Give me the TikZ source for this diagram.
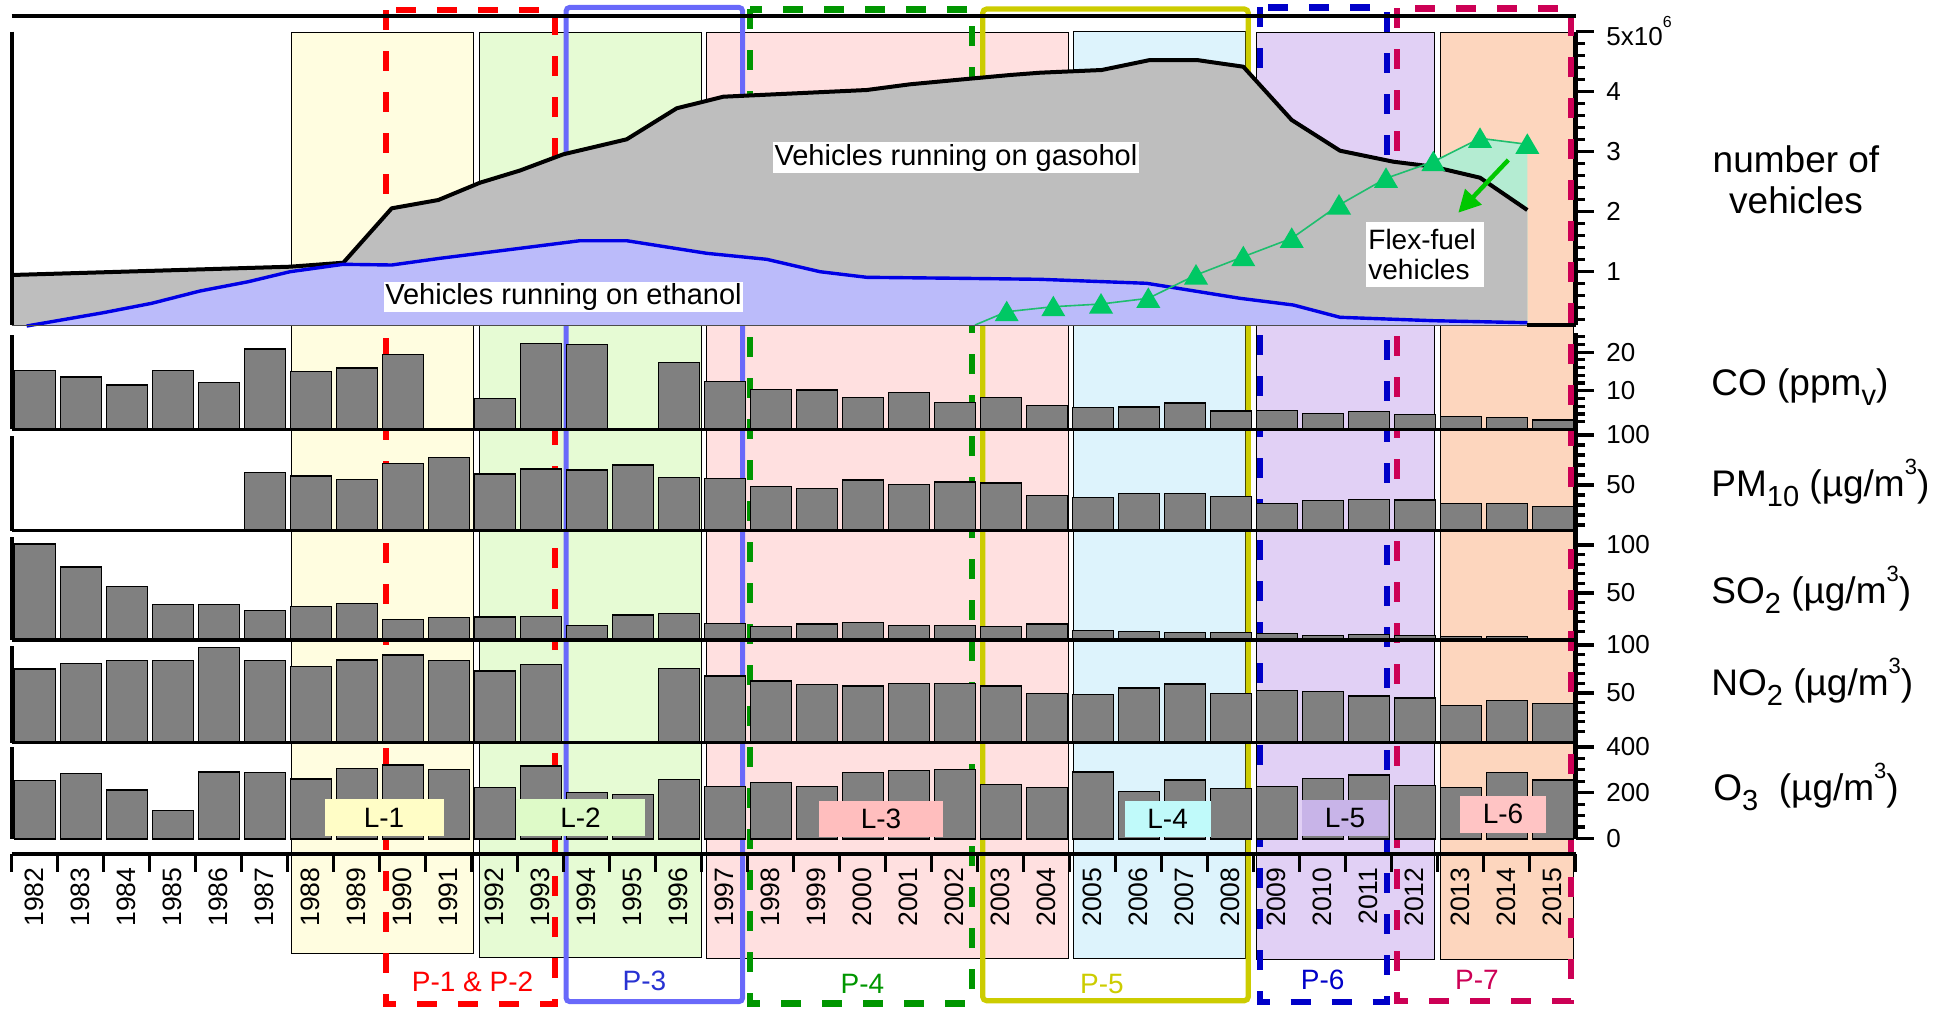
\documentclass[tikz,border=0pt]{standalone}
\usepackage{fontspec}
\setmainfont{Liberation Sans}
\usetikzlibrary{arrows.meta}
\definecolor{lyel}{RGB}{255,253,224}
\definecolor{lgrn}{RGB}{230,251,212}
\definecolor{lpnk}{RGB}{255,224,224}
\definecolor{lblu}{RGB}{221,243,252}
\definecolor{lpur}{RGB}{225,208,245}
\definecolor{lpch}{RGB}{253,214,190}
\definecolor{tyel}{RGB}{255,253,198}
\definecolor{tgrn}{RGB}{222,250,200}
\definecolor{tpnk}{RGB}{255,190,190}
\definecolor{tcyn}{RGB}{192,250,250}
\definecolor{tpur}{RGB}{200,180,232}
\definecolor{tpch}{RGB}{255,196,196}
\definecolor{pred}{RGB}{255,0,0}
\definecolor{pblu}{RGB}{105,105,250}
\definecolor{ptxt}{RGB}{40,50,210}
\definecolor{pgrn}{RGB}{0,150,0}
\definecolor{pyel}{RGB}{204,204,0}
\definecolor{pdbl}{RGB}{0,0,200}
\definecolor{pcrm}{RGB}{204,0,85}
\definecolor{gasg}{RGB}{190,190,190}
\definecolor{ethf}{RGB}{187,187,250}
\definecolor{ethl}{RGB}{0,0,230}
\definecolor{flxl}{RGB}{30,190,110}
\definecolor{flxf}{RGB}{180,236,210}
\definecolor{flxt}{RGB}{0,200,100}
\definecolor{arrg}{RGB}{0,200,0}
\definecolor{barg}{RGB}{128,128,128}
\newcommand\lsub[1]{\raisebox{-5pt}{\fontsize{14.5}{14.5}\selectfont #1}}
\newcommand\lsup[1]{\raisebox{11pt}{\fontsize{11}{11}\selectfont #1}}
\newcommand\barrow[2]{\foreach \k/\t in {#2} {\draw[bar] ({11.6+46*\k+3},\t) rectangle ({11.6+46*\k+44},#1);}}
\begin{document}
\begin{tikzpicture}[x=0.5pt,y=-0.5pt,
  lrect/.style={draw=black,line width=0.5pt},
  pdash/.style={line width=3.2pt,dash pattern=on 10pt off 10.5pt},
  psolid/.style={line width=2.6pt,rounded corners=2pt},
  bar/.style={fill=barg,draw=black,line width=0.75pt},
  axis/.style={line width=2pt},
  hline/.style={line width=1.7pt},
  tk/.style={line width=1.6pt},
  ticklab/.style={font=\fontsize{13}{15}\selectfont,anchor=west,inner sep=0pt},
  yearlab/.style={font=\fontsize{13.3}{15}\selectfont,rotate=90,anchor=east,inner sep=0pt},
  lablbox/.style={font=\fontsize{14}{16}\selectfont,inner sep=0pt},
  plab/.style={font=\fontsize{14}{16}\selectfont,inner sep=0pt},
  rlab/.style={font=\fontsize{18.5}{20}\selectfont,anchor=base west,inner sep=0pt},
  wlab/.style={fill=white,font=\fontsize{14.5}{17}\selectfont,inner xsep=0.8pt,inner ysep=0.8pt}]
\useasboundingbox (0,0) rectangle (1942,1008);
% L period backgrounds
\draw[lrect,fill=lyel] (291,32.3) rectangle (473.3,953);
\draw[lrect,fill=lgrn] (479,32.3) rectangle (701.7,957);
\draw[lrect,fill=lpnk] (706,32.3) rectangle (1068.3,958);
\draw[lrect,fill=lblu] (1073.3,31.7) rectangle (1245,958);
\draw[lrect,fill=lpur] (1256.7,32) rectangle (1434,959);
\draw[lrect,fill=lpch] (1440,32) rectangle (1573,959);
% P period boxes
\draw[pdash,pred] (386,10) rectangle (555,1004);
\draw[psolid,pblu,line width=2.5pt] (566,7.3) rectangle (742.7,1001.7);
\draw[pdash,pgrn] (750,9.3) rectangle (971.7,1003.3);
\draw[psolid,pyel] (982.7,9) rectangle (1248.3,1000.7);
\draw[pdash,pdbl] (1260,7.3) rectangle (1386.7,1001.7);
\draw[pdash,pcrm] (1396.7,8.3) rectangle (1571,1001);
% top panel
\fill[flxf] (975,325) -- (1006.7,311.7) -- (1053.3,306.7) -- (1101,304) -- (1148.3,298.3) -- (1196,275) -- (1243.3,256.7) -- (1291.7,238.3) -- (1339,205) -- (1386,178.3) -- (1433.3,161.7) -- (1480,138.3) -- (1527.3,144.3) -- (1527.3,325) -- cycle;
\fill[gasg] (11.7,275) -- (290,266.7) -- (343.3,262.7) -- (391.7,208.3) -- (438.3,200) -- (480,182.7) -- (520,170.5) -- (563.3,154.3) -- (626.7,139.3) -- (676.7,108.3) -- (723.3,96.7) -- (866.7,90) -- (910,84.3) -- (963.3,79.3) -- (1010,75) -- (1040,72.7) -- (1101.7,70) -- (1150,60) -- (1196.7,60) -- (1243.3,66.7) -- (1291.7,120) -- (1340,150.7) -- (1393.3,161.7) -- (1433.3,166.7) -- (1480,177.7) -- (1527.3,210) -- (1527.3,325) -- (11.7,325) -- cycle;
\fill[ethf] (26.7,326) -- (103.3,312.7) -- (151.7,303.3) -- (200,291) -- (248.3,281.7) -- (290,271.7) -- (343.3,264.3) -- (391.7,265) -- (440,258.3) -- (480,253.3) -- (520,248.3) -- (580,240.7) -- (626.7,240.7) -- (706.7,253.3) -- (766.7,259.3) -- (820,271.7) -- (866.7,277.3) -- (960,278.3) -- (1040,279.3) -- (1146.7,283.3) -- (1240,298.3) -- (1293.3,305) -- (1340,317.3) -- (1433.3,320.7) -- (1527.3,322.7) -- (1527.3,325) -- (26.7,325) -- cycle;
\draw[line width=2pt,line join=round] (11.7,275) -- (290,266.7) -- (343.3,262.7) -- (391.7,208.3) -- (438.3,200) -- (480,182.7) -- (520,170.5) -- (563.3,154.3) -- (626.7,139.3) -- (676.7,108.3) -- (723.3,96.7) -- (866.7,90) -- (910,84.3) -- (963.3,79.3) -- (1010,75) -- (1040,72.7) -- (1101.7,70) -- (1150,60) -- (1196.7,60) -- (1243.3,66.7) -- (1291.7,120) -- (1340,150.7) -- (1393.3,161.7) -- (1433.3,166.7) -- (1480,177.7) -- (1527.3,210);
\draw[ethl,line width=1.7pt,line join=round] (26.7,326) -- (103.3,312.7) -- (151.7,303.3) -- (200,291) -- (248.3,281.7) -- (290,271.7) -- (343.3,264.3) -- (391.7,265) -- (440,258.3) -- (480,253.3) -- (520,248.3) -- (580,240.7) -- (626.7,240.7) -- (706.7,253.3) -- (766.7,259.3) -- (820,271.7) -- (866.7,277.3) -- (960,278.3) -- (1040,279.3) -- (1146.7,283.3) -- (1240,298.3) -- (1293.3,305) -- (1340,317.3) -- (1433.3,320.7) -- (1527.3,322.7);
\draw[flxl,line width=0.8pt] (975,325) -- (1006.7,311.7) -- (1053.3,306.7) -- (1101,304) -- (1148.3,298.3) -- (1196,275) -- (1243.3,256.7) -- (1291.7,238.3) -- (1339,205) -- (1386,178.3) -- (1433.3,161.7) -- (1480,138.3) -- (1527.3,144.3);
\foreach \px/\py in {1006.7/311.7,1053.3/306.7,1101/304,1148.3/298.3,1196/275,1243.3/256.7,1291.7/238.3,1339/205,1386/178.3,1433.3/161.7,1480/138.3,1527.3/144.3}
  {\fill[flxt] (\px-12,\py+9.5) -- (\px+12,\py+9.5) -- (\px,\py-11) -- cycle;}
\draw[line width=0.5pt,black!70] (11.6,325) -- (1527.3,325);
\draw[axis] (1527.3,325) -- (1576,325);
% bars
\barrow{429.3}{0/370.7,1/377,2/385,3/370.7,4/382.7,5/349,6/371.7,7/368,8/354.7,10/398.7,11/343.3,12/344.3,14/362.7,15/381.7,16/389.3,17/390,18/397.7,19/392.7,20/402.7,21/397.7,22/405.3,23/407.7,24/407,25/403,26/411,27/410.7,28/413.3,29/411.7,30/414.7,31/416.7,32/417.3,33/420}
\barrow{530.7}{5/472.7,6/476,7/479.3,8/463.3,9/457.7,10/474,11/469,12/470,13/465,14/477.3,15/478.3,16/486.7,17/488.3,18/480,19/484.7,20/482,21/483,22/495.7,23/497.7,24/493.7,25/493.7,26/496.7,27/503.3,28/500.7,29/499.3,30/500,31/503.3,32/503.3,33/506.7}
\barrow{640}{0/544,1/567,2/586.7,3/604.3,4/604.3,5/610.3,6/606.7,7/603.7,8/619.7,9/617.7,10/617,11/616.7,12/625.7,13/615,14/613.3,15/623.3,16/626.7,17/624,18/622.3,19/625.7,20/625.7,21/626.7,22/624,23/630.3,24/631.7,25/632.3,26/632.3,27/633.3,28/635.3,29/634.3,30/635.7,31/636.7,32/636.7}
\barrow{742.7}{0/669,1/663.7,2/660.7,3/660.7,4/647.7,5/660.7,6/666.7,7/660,8/655,9/660.7,10/671,11/664.3,14/668.3,15/676,16/681,17/684.3,18/686,19/683.3,20/683.3,21/686,22/693.3,23/694.3,24/688,25/684,26/693.3,27/690.7,28/691.7,29/696,30/698,31/705.7,32/700.7,33/703.7}
\barrow{839}{0/780.7,1/773.7,2/790,3/810.3,4/772,5/772.7,6/779,7/768.3,8/765,9/769.3,10/787.7,11/766,12/792.7,13/794.3,14/779.3,15/786.7,16/782.3,17/786.7,18/772.3,19/770.7,20/769.7,21/784.3,22/787.3,23/772,24/791.7,25/780,26/788.3,27/786.7,28/778.3,29/775,30/785.7,31/787.7,32/772.7,33/780}
% axes
\draw[axis] (11.6,16) -- (1576,16);
\draw[axis] (12,31.7) -- (12,325);
\draw[axis] (12,335) -- (12,429.3);
\draw[axis] (12,436) -- (12,530.7);
\draw[axis] (12,537) -- (12,640);
\draw[axis] (12,646) -- (12,742.7);
\draw[axis] (12,747) -- (12,839);
\draw[hline] (11.6,429.3) -- (1576,429.3);
\draw[hline] (11.6,530.7) -- (1576,530.7);
\draw[hline] (11.6,640) -- (1576,640);
\draw[hline] (11.6,742.7) -- (1576,742.7);
\draw[axis] (11.6,854) -- (1576,854);
\foreach \k in {0,...,34} {\draw[tk] ({11.6+46*\k},854) -- ({11.6+46*\k},872);}
\draw[axis] (1576,31.7) -- (1576,325);
\draw[axis] (1576,333) -- (1576,839);
% right ticks
\foreach \i in {1,...,24} {\draw[tk] (1576,{331.5-12*\i}) -- ++(9,0);}
\foreach \i in {1,...,5} {\draw[tk] (1576,{331.5-60*\i}) -- ++(18,0);}
\foreach \i in {1,...,12} {\draw[tk] (1576,{429.5-7.74*\i}) -- ++(9,0);}
\foreach \i in {5,10} {\draw[tk] (1576,{429.5-7.74*\i}) -- ++(18,0);}
\foreach \i in {1,...,10} {\draw[tk] (1576,{535-10*\i}) -- ++(9,0);}
\foreach \i in {5,10} {\draw[tk] (1576,{535-10*\i}) -- ++(18,0);}
\foreach \i in {1,...,10} {\draw[tk] (1576,{641-9.6*\i}) -- ++(9,0);}
\foreach \i in {5,10} {\draw[tk] (1576,{641-9.6*\i}) -- ++(18,0);}
\foreach \i in {1,...,10} {\draw[tk] (1576,{741-9.6*\i}) -- ++(9,0);}
\foreach \i in {5,10} {\draw[tk] (1576,{741-9.6*\i}) -- ++(18,0);}
\foreach \i in {0,...,8} {\draw[tk] (1576,{838.5-11.44*\i}) -- ++(9,0);}
\foreach \i in {0,4,8} {\draw[tk] (1576,{838.5-11.44*\i}) -- ++(18,0);}
% tick labels
\node[ticklab,anchor=base west] (t5) at (1606,45) {5x10\raisebox{9pt}{\fontsize{8}{8}\selectfont 6}};
\node[ticklab] (t4) at (1606,91.5) {4};
\node[ticklab] (t3) at (1606,151.5) {3};
\node[ticklab] (t2) at (1606,211.5) {2};
\node[ticklab] (t1) at (1606,271.5) {1};
\node[ticklab] (c20) at (1606,352.1) {20};
\node[ticklab] (c10) at (1606,390.8) {10};
\node[ticklab] (m100) at (1606,435) {100};
\node[ticklab] (m50) at (1606,485) {50};
\node[ticklab] (s100) at (1606,545) {100};
\node[ticklab] (s50) at (1606,593) {50};
\node[ticklab] (n100) at (1606,645) {100};
\node[ticklab] (n50) at (1606,693) {50};
\node[ticklab] (o400) at (1606,747) {400};
\node[ticklab] (o200) at (1606,792.7) {200};
\node[ticklab] (o0) at (1606,838.5) {0};
% year labels
\foreach \k in {0,...,33} {\pgfmathtruncatemacro{\yr}{1982+\k}\node[yearlab] (y\yr) at ({11.6+46*\k+23},867) {\yr};}
% L labels
\node[lablbox,fill=tyel,minimum width=59.5pt,minimum height=18.5pt] (l1) at (384,817.5) {L-1};
\node[lablbox,fill=tgrn,minimum width=64.2pt,minimum height=18.5pt] (l2) at (580.5,817.5) {L-2};
\node[lablbox,fill=tpnk,minimum width=62pt,minimum height=18.3pt] (l3) at (881,819) {L-3};
\node[lablbox,fill=tcyn,minimum width=43pt,minimum height=18.3pt] (l4) at (1167.6,819) {L-4};
\node[lablbox,fill=tpur,minimum width=43pt,minimum height=18pt] (l5) at (1345,818) {L-5};
\node[lablbox,fill=tpch,minimum width=42.6pt,minimum height=18.3pt] (l6) at (1503,814.3) {L-6};
% P labels
\node[plab,text=pred] (tp12) at (472.6,981.7) {P-1 \& P-2};
\node[plab,text=ptxt] (tp3) at (644.5,981) {P-3};
\node[plab,text=pgrn] (tp4) at (862.5,984) {P-4};
\node[plab,text=pyel] (tp5) at (1102,984) {P-5};
\node[plab,text=pdbl] (tp6) at (1322.7,980) {P-6};
\node[plab,text=pcrm] (tp7) at (1477,980) {P-7};
% chart labels
\node[wlab] (eth) at (563.5,296.7) {Vehicles running on ethanol};
\node[wlab] (gas) at (956,157.5) {Vehicles running on gasohol};
\node[fill=white,font=\fontsize{14}{15}\selectfont,align=left,text width=57pt,inner xsep=1pt,inner ysep=3.5pt,anchor=north west] (flex) at (1366,221.7) {Flex-fuel\\vehicles};
\coordinate (ar1) at (1508.3,160);
\coordinate (ar2) at (1458.3,212.7);
\draw[arrg,line width=2.2pt,-{Triangle[length=11pt,width=11pt]}] (ar1) -- (ar2);
% right labels
\node[font=\fontsize{18.5}{20.5}\selectfont,align=center,inner sep=0pt] (nveh) at (1796,180) {number of\\vehicles};
\node[rlab] (co) at (1711,395) {CO (ppm\lsub{v})};
\node[rlab] (pm) at (1711,496.7) {PM\lsub{10} (µg/m\lsup{3})};
\node[rlab] (so) at (1711,603.3) {SO\lsub{2} (µg/m\lsup{3})};
\node[rlab] (no) at (1711,695) {NO\lsub{2} (µg/m\lsup{3})};
\node[rlab] (oz) at (1713,800) {O\lsub{3}\ \ (µg/m\lsup{3})};
\end{tikzpicture}
\end{document}
